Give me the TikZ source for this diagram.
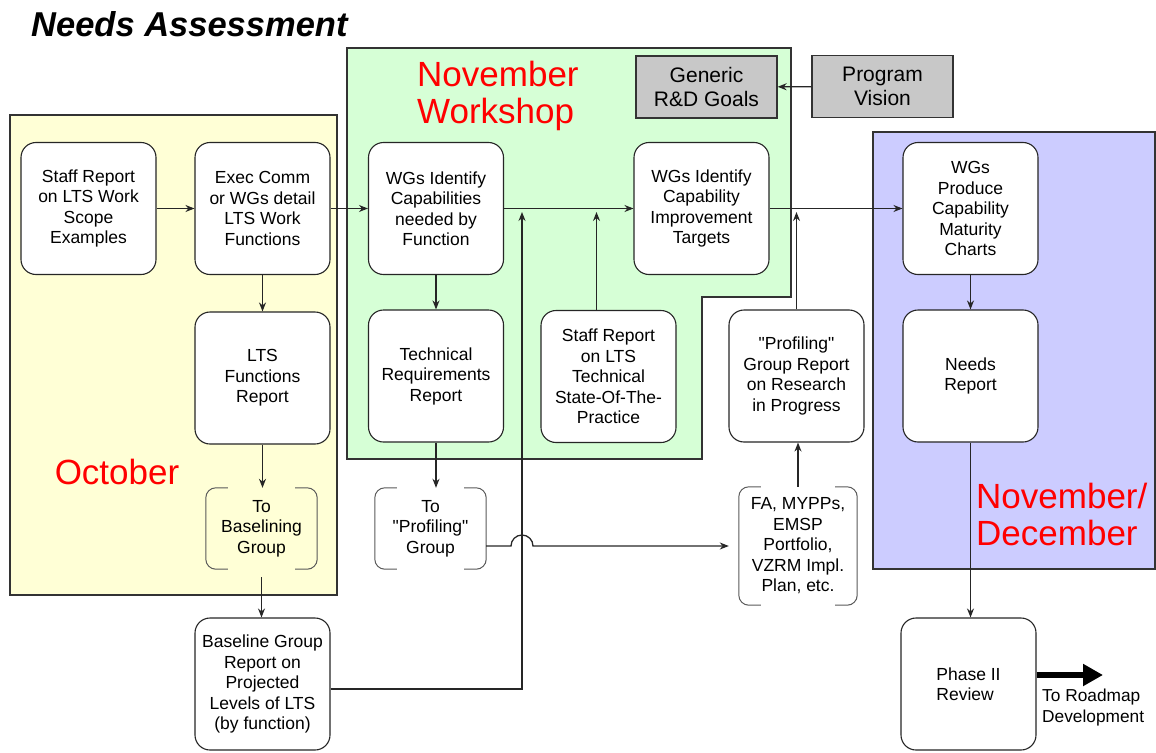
\documentclass[tikz,border=0pt]{standalone}
\usepackage{fontspec}
\setmainfont{Liberation Sans}
\usetikzlibrary{arrows.meta,calc}
\definecolor{octfill}{RGB}{255,255,214}
\definecolor{novfill}{RGB}{214,255,214}
\definecolor{decfill}{RGB}{204,204,255}
\definecolor{goalfill}{RGB}{200,200,200}
\definecolor{edgegrey}{RGB}{51,51,51}
\def\bracketbox(#1){\draw[bracketline] ([xshift=22pt]#1.north west) -| (#1.south west) -- ([xshift=22pt]#1.south west); \draw[bracketline] ([xshift=-22pt]#1.north east) -| (#1.south east) -- ([xshift=-22pt]#1.south east);}

\begin{document}
\begin{tikzpicture}[x=1pt, y=-1pt,
	region/.style={draw=edgegrey, line width=1.5pt},
	roundbox/.style={draw=black!85, fill=white, line width=1.1pt, rounded corners=15pt, minimum width=135pt, minimum height=132pt, align=center, inner sep=2pt, font=\fontsize{17.5}{20.5}\selectfont},
	greybox/.style={draw=edgegrey, fill=goalfill, line width=1.3pt, minimum width=141pt, minimum height=62pt, align=center, font=\fontsize{21}{24}\selectfont},
	openbox/.style={minimum width=111pt, minimum height=81pt, align=center, inner sep=0pt, font=\fontsize{17.5}{20.5}\selectfont},
	bracketline/.style={draw=black!65, line width=1pt, rounded corners=10pt},
	redlabel/.style={text=red, inner sep=0pt, align=left, font=\fontsize{35}{37}\selectfont},
	arr/.style={draw=black!85, line width=1.3pt, -{Stealth[length=9pt,width=7pt]}},
	bigarr/.style={line width=6pt, -{Triangle[length=20pt,width=21pt]}}]
	%%%%% START %%%%%
	\useasboundingbox (0, 0) rectangle (1156, 752);
	
	\node[anchor=west, inner sep=0pt, font=\fontsize{34.5}{36}\selectfont\bfseries\itshape] (title) at (31, 24) {Needs Assessment};
	
	% time frames
	\draw[region, fill=octfill] (10, 115) rectangle (337, 595);
	\draw[region, fill=novfill] (347, 48) -- (791, 48) -- (791, 297) -- (702, 297) -- (702, 459) -- (347, 459) -- cycle;
	\draw[region, fill=decfill] (873, 132) rectangle (1155, 569);
	
	\node[redlabel] (octlabel) at (117, 472) {October};
	\node[redlabel, anchor=west] (novlabel) at (417, 96) {November\\Workshop};
	\node[redlabel, anchor=west] (declabel) at (976, 514) {November/\\December};
	
	% october
	\node[roundbox] (scope) at (88.5, 208.5) {Staff Report\\on LTS Work\\Scope\\Examples};
	\node[roundbox] (execcomm) at (262.5, 208.5) {Exec Comm\\or WGs detail\\LTS Work\\Functions};
	\node[roundbox] (ltsfunc) at (262.5, 378) {LTS\\Functions\\Report};
	\node[openbox] (tobase) at (261.5, 528.5) {To\\Baselining\\Group};
	\bracketbox(tobase)
	\node[roundbox] (baseline) at (262.5, 684) {Baseline Group\\Report on\\Projected\\Levels of LTS\\(by function)};
	
	% november workshop
	\node[greybox] (generic) at (706.5, 87) {Generic\\R\&D Goals};
	\node[greybox] (vision) at (882.5, 86.5) {Program\\Vision};
	\node[roundbox] (wgcap) at (436, 208.5) {WGs Identify\\Capabilities\\needed by\\Function};
	\node[roundbox] (techreq) at (436, 376) {Technical\\Requirements\\Report};
	\node[roundbox] (sotp) at (608.5, 376.5) {Staff Report\\on LTS\\Technical\\State-Of-The-\\Practice};
	\node[roundbox] (targets) at (701.5, 208.5) {WGs Identify\\Capability\\Improvement\\Targets};
	\node[openbox] (toprof) at (430.5, 528.5) {To\\\textquotedbl Profiling\textquotedbl\\Group};
	\bracketbox(toprof)
	\node[roundbox] (profrep) at (796.5, 376) {\textquotedbl Profiling\textquotedbl\\Group Report\\on Research\\in Progress};
	\node[openbox, minimum width=118pt, minimum height=118pt] (fa) at (798, 546) {FA, MYPPs,\\EMSP\\Portfolio,\\VZRM Impl.\\Plan, etc.};
	\bracketbox(fa)
	
	% november/december
	\node[roundbox] (produce) at (970.5, 208.5) {WGs\\Produce\\Capability\\Maturity\\Charts};
	\node[roundbox] (needs) at (970.5, 376) {Needs\\Report};
	\node[roundbox, align=left] (phase) at (968.5, 684) {Phase II\\Review};
	
	\coordinate (merge) at (522, 212);
	\coordinate (roadmap) at (1103, 675);
	
	% flow
	\draw[arr] (scope) -- (execcomm);
	\draw[arr] (execcomm) -- (wgcap);
	\draw[arr] (execcomm) -- (ltsfunc);
	\draw[arr] (ltsfunc.south) -- (ltsfunc.south |- tobase.north);
	\draw[arr] ([yshift=-8pt]tobase.south) -- (tobase.south |- baseline.north);
	\draw[arr] ([yshift=-5pt]baseline.east) -| (merge);
	\draw[arr] (wgcap) -- (targets);
	\draw[arr] (wgcap) -- (techreq);
	\draw[arr] (techreq.south) -- (techreq.south |- toprof.north);
	\draw[arr] ([xshift=-12pt]sotp.north) -- ([xshift=-12pt]sotp.north |- merge);
	\draw[arr] (toprof.east |- fa.west) -- ($(merge |- fa.west)+(-11, 0)$) arc (180:0:11pt) -- ([xshift=-10pt]fa.west);
	\draw[arr] (fa.north) -- (fa.north |- profrep.south);
	\draw[arr] (profrep.north) -- (profrep.north |- merge);
	\draw[arr] (vision) -- (generic);
	\draw[arr] (targets) -- (produce);
	\draw[arr] (produce) -- (needs);
	\draw[arr] (needs.south) -- (needs.south |- phase.north);
	\draw[bigarr] ([yshift=9pt]phase.east) -- (roadmap);
	\node[anchor=north west, align=left, inner sep=0pt, font=\fontsize{17.3}{20.5}\selectfont] (roadmaptext) at (1042, 689) {To Roadmap\\Development};
	
	%%%%% END %%%%%
\end{tikzpicture}
\end{document}
